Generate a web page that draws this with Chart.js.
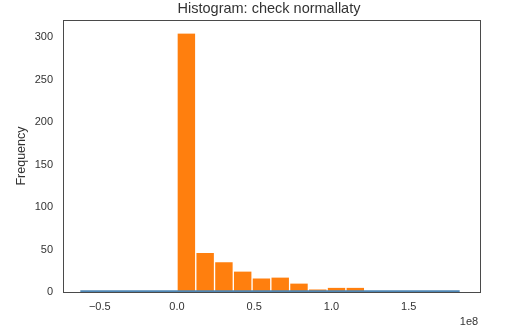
<!DOCTYPE html>
<html>
<head>
<meta charset="utf-8">
<script src="https://cdn.jsdelivr.net/npm/chart.js@4.4.1/dist/chart.umd.min.js"></script>
<style>
  html, body { margin: 0; padding: 0; background: #fff; }
  #wrap { width: 521px; height: 331px; position: relative; }
</style>
</head>
<body>
<div id="wrap"><canvas id="hist"></canvas></div>
<script>
// histogram bins (edges in units of 1e8) and counts
const binEdges = [0, 0.1215, 0.243, 0.3645, 0.486, 0.6075, 0.729, 0.8505, 0.972, 1.0935, 1.215];
const counts = [304, 46, 35, 24, 16, 17, 10, 3, 5, 5];

// second series, flat near zero across the full range
const lineX = [-0.626, 1.83];
const lineY = [1, 1];

const xTicks = [-0.5, 0, 0.5, 1.0, 1.5];
const yTicks = [0, 50, 100, 150, 200, 250, 300];

const SCALE = 1e8;
const textColor = '#333333';
const fontFamily = '"Liberation Sans", Arial, sans-serif';

const barData = counts.map((c, i) => ({
  x: (binEdges[i] + binEdges[i + 1]) / 2 * SCALE,
  y: c
}));
const lineData = lineX.map((x, i) => ({ x: x * SCALE, y: lineY[i] }));

// box around plot area, title and offset label like matplotlib
const framePlugin = {
  id: 'frame',
  afterDraw(chart) {
    const { ctx, chartArea: a } = chart;
    ctx.save();
    ctx.strokeStyle = '#4a4a4a';
    ctx.lineWidth = 1;
    ctx.strokeRect(a.left + 0.5, a.top + 0.5, a.right - a.left - 1, a.bottom - a.top);
    ctx.fillStyle = textColor;
    ctx.font = '14.5px ' + fontFamily;
    ctx.textAlign = 'center';
    ctx.textBaseline = 'middle';
    ctx.fillText('Histogram: check normallaty', (a.left + a.right) / 2 - 3, 9);
    ctx.font = '11px ' + fontFamily;
    ctx.textAlign = 'center';
    ctx.fillText('1e8', 469, 322);
    ctx.restore();
  }
};

new Chart(document.getElementById('hist'), {
  type: 'bar',
  data: {
    datasets: [
      {
        type: 'line',
        data: lineData,
        borderColor: '#4f87b5',
        borderWidth: 2,
        pointRadius: 0,
        order: 0
      },
      {
        type: 'bar',
        data: barData,
        backgroundColor: '#ff7f0e',
        borderColor: '#ffffff',
        borderWidth: { left: 1, right: 1, top: 0, bottom: 0 },
        barPercentage: 1,
        categoryPercentage: 1,
        order: 1
      }
    ]
  },
  options: {
    responsive: true,
    maintainAspectRatio: false,
    animation: false,
    layout: { padding: { top: 20, right: 40, left: 0, bottom: 0 } },
    plugins: {
      legend: { display: false },
      tooltip: { enabled: false }
    },
    scales: {
      x: {
        type: 'linear',
        offset: false,
        min: -0.738 * SCALE,
        max: 1.968 * SCALE,
        grid: { display: false, drawTicks: false, offset: false },
        border: { display: false },
        afterBuildTicks: s => { s.ticks = xTicks.map(v => ({ value: v * SCALE })); },
        afterFit: s => { s.height = 39; },
        ticks: {
          color: textColor,
          font: { size: 11, family: fontFamily },
          padding: 8,
          maxRotation: 0,
          callback: v => {
            const t = (v / SCALE).toFixed(1);
            return t.startsWith('-') ? '\u2212' + t.slice(1) : t;
          }
        }
      },
      y: {
        min: 0,
        max: 320,
        grid: { display: false, drawTicks: false },
        border: { display: false },
        afterBuildTicks: s => { s.ticks = yTicks.map(v => ({ value: v })); },
        afterFit: s => { s.width = 63; },
        title: {
          display: true,
          text: 'Frequency',
          color: textColor,
          font: { size: 12.5, family: fontFamily },
          padding: { top: 14, bottom: 0 }
        },
        ticks: {
          color: textColor,
          font: { size: 11, family: fontFamily },
          padding: 10
        }
      }
    }
  },
  plugins: [framePlugin]
});
</script>
</body>
</html>
